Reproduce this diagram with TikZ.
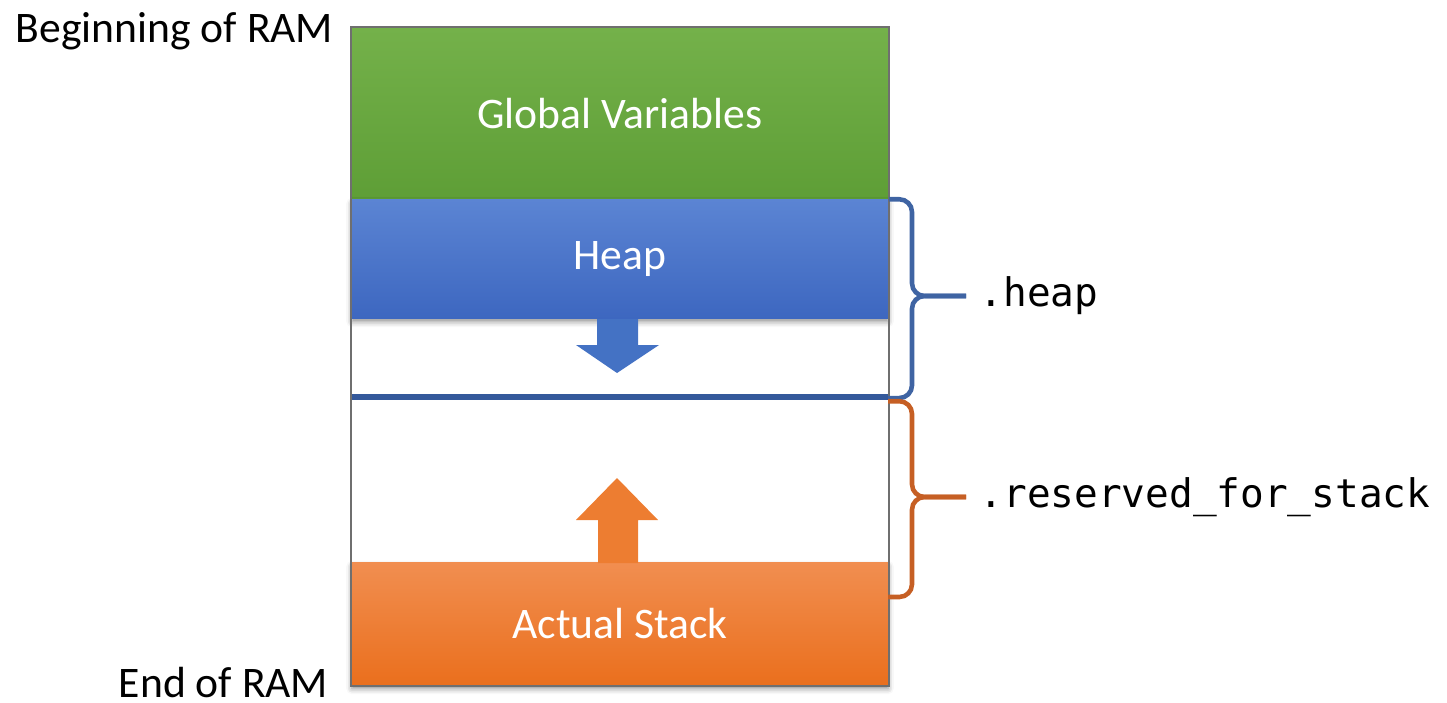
\documentclass[tikz,border=0pt]{standalone}
\usepackage{fontspec}
\setmainfont{Carlito}
\newfontfamily\codefont{DejaVu Sans Mono}
\usetikzlibrary{shadows.blur}

\definecolor{greentop}{HTML}{74B14A}
\definecolor{greenbot}{HTML}{5E9E36}
\definecolor{bluetop}{HTML}{5B84D3}
\definecolor{bluebot}{HTML}{3D67C0}
\definecolor{orangetop}{HTML}{F18E50}
\definecolor{orangebot}{HTML}{EA6F1D}
\definecolor{heaparrow}{HTML}{4472C4}
\definecolor{stackarrow}{HTML}{ED7D31}
\definecolor{sepblue}{HTML}{34599B}
\definecolor{heapcol}{HTML}{3F64A3}
\definecolor{stackcol}{HTML}{C65F24}
\definecolor{framegray}{HTML}{6F6F6F}

\tikzset{
  memblock/.style={minimum width=5.36cm, inner sep=0pt, text=white,
    font=\fontsize{12.4}{15}\selectfont},
  ramlabel/.style={anchor=base east, inner sep=0pt, font=\fontsize{12.4}{15}\selectfont},
  codelabel/.style={anchor=base west, inner sep=0pt, font=\codefont\fontsize{11.2}{14}\selectfont},
  bracket/.style={line width=1.3pt, rounded corners=3.6pt},
  blockshadow/.style={blur shadow={shadow xshift=0pt, shadow yshift=-1pt,
    shadow blur radius=1.6pt, shadow opacity=45}}
}

\begin{document}
\begin{tikzpicture}[x=0.01cm, y=-0.01cm]
  \useasboundingbox (0,0) rectangle (1447,703);

  % memory blocks
  \node[memblock, minimum height=1.72cm, top color=greentop, bottom color=greenbot]
    (globals) at (620,114) {Global Variables};
  \node[memblock, minimum height=1.18cm, top color=bluetop, bottom color=bluebot, blockshadow]
    (heap) at (620,259) {Heap};
  \node[memblock, minimum height=1.22cm, top color=orangetop, bottom color=orangebot, blockshadow]
    (stack) at (620,624) {Actual Stack};

  % outline of the whole RAM
  \draw[framegray, line width=0.5pt] (globals.north west) rectangle (stack.south east);

  % growth arrows
  \fill[heaparrow] (597,319) -- (638,319) -- (638,345) -- (659,345) -- (617,373)
    -- (576,345) -- (597,345) -- cycle;
  \fill[stackarrow] (598,563) -- (598,520) -- (576,520) -- (617,478) -- (658,520)
    -- (638,520) -- (638,563) -- cycle;

  % boundary between heap and stack
  \coordinate (sepw) at (352,397);
  \coordinate (sepe) at (888,397);
  \draw[sepblue, line width=1.7pt] (sepw) -- (sepe);

  % braces
  \coordinate (heapmid) at (912,296);
  \coordinate (heaptip) at (966,296);
  \draw[bracket, heapcol] (heap.north east) -| (heapmid) -- (heaptip);
  \draw[bracket, heapcol] ([yshift=-0.3pt]sepe) -| (heapmid) -- (heaptip);

  \coordinate (stackmid) at (912,497);
  \coordinate (stacktip) at (966,497);
  \coordinate (stackend) at (888,597);
  \draw[bracket, stackcol] ([yshift=-1.2pt]sepe) -| (stackmid) -- (stacktip);
  \draw[bracket, stackcol] (stackend) -| (stackmid) -- (stacktip);

  % labels
  \node[codelabel] (heaplbl) at (979,306) {.heap};
  \node[codelabel] (stacklbl) at (979,507) {.reserved\_for\_stack};
  \node[ramlabel] (ramstart) at (334,42) {Beginning of RAM};
  \node[ramlabel] (ramend) at (329,697) {End of RAM};
\end{tikzpicture}
\end{document}
